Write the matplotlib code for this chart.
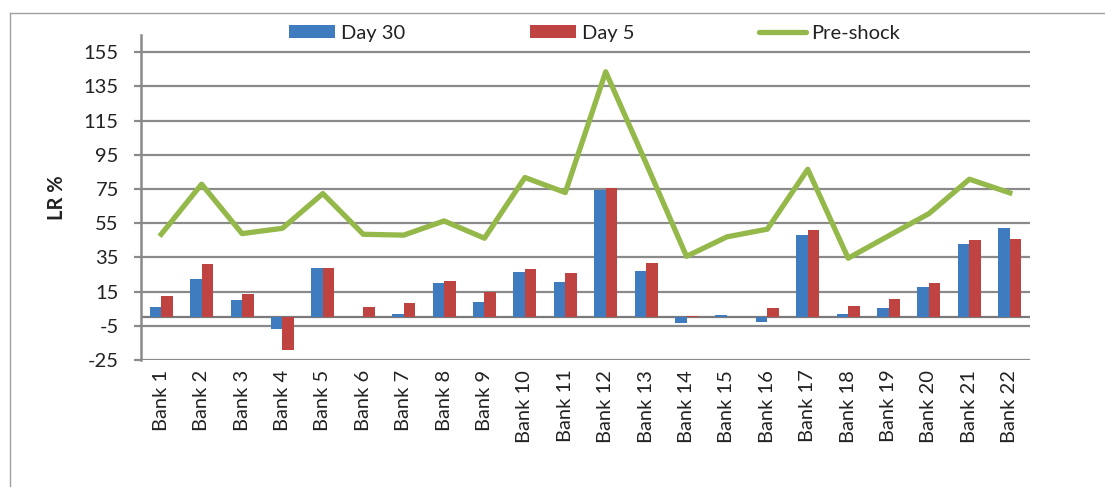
import matplotlib
matplotlib.use("Agg")
import matplotlib.pyplot as plt
import numpy as np
from matplotlib.lines import Line2D
from matplotlib.patches import Patch

banks = [f"Bank {i}" for i in range(1, 23)]
day30 = [5.8, 22.2, 10.1, -6.6, 28.7, 0.0, 1.8, 20.1, 9.0, 26.7, 20.7,
         74.3, 26.9, -3.3, 1.2, -2.5, 48.3, 1.9, 5.5, 17.5, 43.1, 52.2]
day5 = [12.3, 31.0, 13.3, -19.3, 29.0, 5.7, 8.4, 21.2, 14.6, 28.1, 25.7,
        75.4, 31.6, 0.8, 0.0, 5.5, 51.1, 6.6, 10.5, 20.1, 45.0, 45.8]
preshock = [48.5, 77.8, 48.9, 52.0, 72.3, 48.5, 48.0, 56.3, 46.2, 81.7, 72.9,
            143.5, 90.0, 35.6, 47.0, 51.5, 86.5, 34.5, 47.6, 60.6, 80.7, 72.7]
yticks = list(range(-25, 156, 20))

plt.rcParams['font.family'] = ['Lato', 'DejaVu Sans']
W, H = 1105, 487
fig = plt.figure(figsize=(W / 100, H / 100), dpi=100)
ax = fig.add_axes([141 / W, 1 - 360 / H, (1030 - 141) / W, (360 - 35) / H])

x = np.arange(len(banks))
bw = 0.285
blue, red, green = "#3F7BBF", "#BF4441", "#94B84A"
grid_c = "#8A8A8A"
fs = 14.5

ax.bar(x - bw / 2, day30, width=bw, color=blue, linewidth=0, zorder=3, label="Day 30")
ax.bar(x + bw / 2, day5, width=bw, color=red, linewidth=0, zorder=3, label="Day 5")
ax.plot(x, preshock, color=green, linewidth=3.8, solid_joinstyle='round', zorder=4, label="Pre-shock")

ax.set_xlim(-0.5, len(banks) - 0.5)
ax.set_ylim(-25, 165)
ax.set_yticks(yticks)
ax.set_yticklabels([str(v) for v in yticks])
ax.yaxis.grid(True, color=grid_c, linewidth=1.6, zorder=0)
ax.set_axisbelow(True)
ax.axhline(0, color="#7A7A7A", linewidth=1.6, zorder=2)

for s in ["top", "right", "bottom"]:
    ax.spines[s].set_visible(False)
ax.spines["left"].set_color(grid_c)
ax.spines["left"].set_linewidth(1.8)

ax.set_xticks(x)
ax.set_xticklabels(banks, rotation=90, va="top", ha="center")
ax.tick_params(axis="x", length=0, pad=7, labelsize=fs, labelcolor="#222222")
ax.tick_params(axis="y", length=5, width=1.6, color=grid_c, pad=11, labelsize=fs, labelcolor="#222222")

fig.text(57 / W, 1 - 198 / H, "LR %", rotation=90, ha="center", va="center",
         fontsize=fs, fontweight="bold", color="#222222")

handles = [Patch(facecolor=blue, edgecolor="none"),
           Patch(facecolor=red, edgecolor="none"),
           Line2D([0], [0], color=green, linewidth=3.8, solid_capstyle='round')]
fig.legend(handles, ["Day 30", "Day 5", "Pre-shock"], loc="center left",
           bbox_to_anchor=(289 / W, 1 - 33 / H), ncol=3, frameon=False,
           borderpad=0, borderaxespad=0, handlelength=2.3, handleheight=0.65,
           handletextpad=0.28, columnspacing=6.2, fontsize=fs,
           labelcolor="#222222")

# figure border (top and left visible)
fig.add_artist(Line2D([10 / W, 1.0], [1 - 13 / H, 1 - 13 / H], color="#A0A0A0", linewidth=1.0, transform=fig.transFigure))
fig.add_artist(Line2D([10 / W, 10 / W], [1 - 13 / H, 0.0], color="#A0A0A0", linewidth=1.0, transform=fig.transFigure))

fig.savefig("out.png", dpi=100)
